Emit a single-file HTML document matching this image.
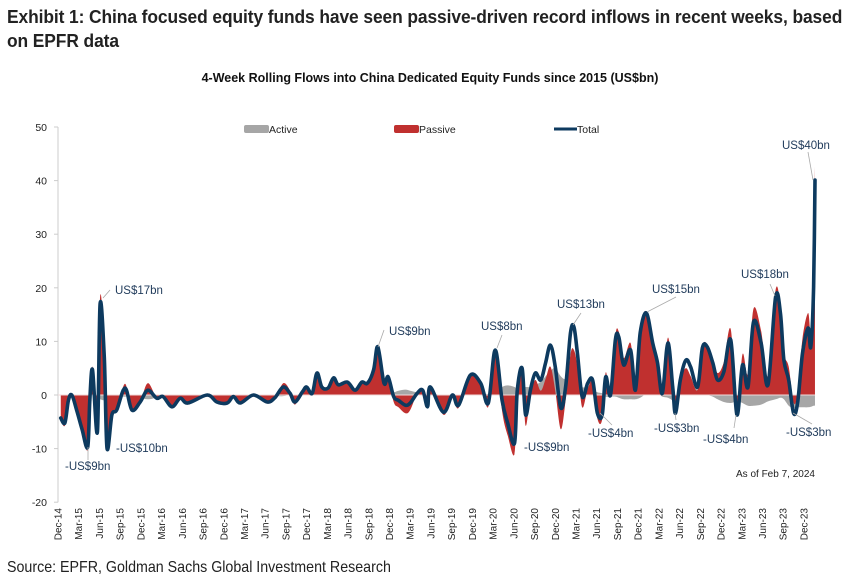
<!DOCTYPE html>
<html><head><meta charset="utf-8"><style>
body{margin:0;width:859px;height:586px;background:#fff;overflow:hidden;font-family:"Liberation Sans",sans-serif;}
.title{position:absolute;left:7px;top:5px;width:980px;font-weight:bold;font-size:18.5px;line-height:24px;color:#222;transform:scaleX(0.94);transform-origin:0 0;letter-spacing:-0.1px}
.src{position:absolute;left:7px;top:559px;font-size:16px;color:#222;transform:scaleX(0.89);transform-origin:0 0;white-space:nowrap}
svg{position:absolute;left:0;top:0}
</style></head><body>
<div class="title">Exhibit 1: China focused equity funds have seen passive-driven record inflows in recent weeks, based<br>on EPFR data</div>
<div class="src">Source: EPFR, Goldman Sachs Global Investment Research</div>
<svg id="c" width="859" height="586"></svg>
<script>
const months = [0.4,1,1.5,2,2.7,3.5,4.3,4.6,5,5.7,6.1,6.7,7.1,7.8,8.5,9.7,10.7,11.9,13,14.3,15.2,16.5,17.7,18.8,21.6,23,24.5,25.4,26.4,28.3,30.3,31.4,32.6,33.6,34.3,35.4,36,36.8,37.5,38.2,39.1,39.9,40.6,41.9,43,44,44.8,45.7,46.3,47.2,47.8,48.6,49.3,50.3,51,52,52.8,53.5,53.9,55.8,57.1,58,59.7,61.2,62.3,63.3,64.3,65.1,66.1,66.5,67.2,67.7,68.4,69.1,69.9,70.6,71.3,72,72.8,73.5,74.2,74.7,75.2,75.9,76.7,77.4,78.1,78.8,79.3,80,80.7,81.2,81.9,82.9,83.6,84.3,85.2,86.1,86.8,87.5,88.3,89,89.4,90.1,90.9,91.6,92.6,93.3,94,94.8,95.5,96.4,97.4,98.3,99.1,99.9,100.7,101.8,102.8,103.9,104.6,105.1,105.8,106.5,107.1,107.8,108.6,109,109.4,109.6];
const total = [-4.3,-5.2,-1,0,-2.8,-6.5,-9.7,-1,4.7,-6.9,17,7,-9.9,-3.7,-2.8,1.3,-2.8,-1.3,0.9,-0.6,-0.3,-2.2,-0.6,-1.5,0,-1.3,-1.5,-0.3,-1.5,0,-1.3,-0.5,1.5,0.3,-1.3,0.6,1.5,0.3,4.1,1.5,1.3,3.2,1.9,2.4,0.9,2.4,2.2,4.7,9,2.2,3.4,-0.3,-1,-1.9,-1.5,0.3,0.9,-2.2,1.5,-3.2,0,-1.9,3.7,2.2,-1.5,8.4,-1,-5.2,-9,0.9,5,-3.7,0.9,4.1,2.8,6,9.3,5.2,-2.4,1.5,11.6,12.7,7.8,-0.3,2.2,2.8,-3.4,-3.7,3.4,0,10.3,10.8,5.6,8.4,0.9,11.6,15.3,9.7,6,0.3,9.7,1.5,-3.4,2.8,6.5,5.2,1.5,8.8,9,6,2.8,4.3,10.3,-3.7,5.6,1.5,13.6,9.7,1.9,18.3,15.3,6.5,2.8,-3.4,-1.3,7.8,12.5,9,20.1,40.1];
const active = [0,0,0,0,0,0,0,0,0,-0.5,-0.8,-1,-0.8,-0.5,-0.3,-0.3,-0.3,-0.5,-0.8,-0.5,-0.3,-0.3,-0.3,-0.2,-0.2,-0.2,-0.3,-0.2,-0.2,-0.2,-0.2,-0.2,-0.2,0,0,0.3,0.5,0.5,0.8,0.8,0.8,0.8,0.8,0.8,0.8,0.8,0.8,0.8,0.8,0.5,0.5,0.5,0.8,1,0.8,0.5,0.3,-0.3,0.2,0,0,0,0.3,0.3,0.2,0.5,1.5,1.8,1.5,1.2,1.5,1.5,1.5,1.8,2.5,3.5,4.5,5,3.5,3,4.5,4.8,3,1.5,1.5,1,0.5,0.3,-0.3,-0.3,-0.3,-0.5,-0.8,-0.8,-0.8,-0.5,0.2,0.5,0.3,-0.3,-0.5,-1,-1.2,0.5,2,2.2,1,0.3,0,-0.3,-0.8,-1.3,-1.5,-1.2,-1.5,-2,-2,-1.8,-1.2,-0.8,-0.5,-0.8,-2,-2.5,-2.3,-2.3,-2.3,-2.2,-2,-2];
const yTicks = [50,40,30,20,10,0,-10,-20];
const xLabels = [];
['14','15','16','17','18','19','20','21','22','23'].forEach((yr,i)=>{ if(i===0){xLabels.push('Dec-14');return;} ['Mar','Jun','Sep','Dec'].forEach(m=>xLabels.push(m+'-'+yr)); });
const x0=58, mPx=20.72/3;
const X=m=>x0+m*mPx;
const Y=v=>395-v*5.36;
const svg=document.getElementById('c');
const NS='http://www.w3.org/2000/svg';
function mk(tag,attrs,parent){const e=document.createElementNS(NS,tag);for(const k in attrs)e.setAttribute(k,attrs[k]);(parent||svg).appendChild(e);return e;}
function smooth(p){
  let d='';
  for(let i=0;i<p.length-1;i++){
    const a=p[Math.max(0,i-1)],b=p[i],c=p[i+1],e=p[Math.min(p.length-1,i+2)];
    const c1=[b[0]+(c[0]-a[0])/6,b[1]+(c[1]-a[1])/6],c2=[c[0]-(e[0]-b[0])/6,c[1]-(e[1]-b[1])/6];
    d+=`C${c1[0].toFixed(1)},${c1[1].toFixed(1)} ${c2[0].toFixed(1)},${c2[1].toFixed(1)} ${c[0].toFixed(1)},${c[1].toFixed(1)}`;
  }
  return d;
}
let t=mk('text',{x:430,y:82,'text-anchor':'middle','font-size':'12.5','font-weight':'bold',fill:'#111'});t.textContent='4-Week Rolling Flows into China Dedicated Equity Funds since 2015 (US$bn)';


let ax=mk('line',{x1:x0,y1:Y(50),x2:x0,y2:Y(-20),stroke:'#ccc','stroke-width':1});


yTicks.forEach(v=>{
  const l=mk('line',{x1:x0-4,x2:x0,y1:Y(v),y2:Y(v),stroke:'#ccc'});
  
  
  const tx=mk('text',{x:47,y:Y(v)+4,'text-anchor':'end','font-size':'10.5',fill:'#222'});tx.textContent=v;
  
  
});
xLabels.forEach((s,i)=>{
  const x=x0+i*20.72+3.5;
  const tx=mk('text',{x:0,y:0,transform:`translate(${x},508) rotate(-90)`,'text-anchor':'end','font-size':'10',fill:'#222'});tx.textContent=s;
  
  
});
function area(vals,color,name){
  const p=vals.map((v,i)=>[X(months[i]),Y(v)]);
  let d=`M${X(months[0])},${Y(0)}L${p[0][0]},${p[0][1]}`+smooth(p)+`L${X(months[months.length-1])},${Y(0)}Z`;
  const el=mk('path',{d,fill:color});
  
  
}
area(active,'#a6a6a6','active-area');
const passive=total.map((v,i)=>v-active[i]+(v>0?0.5:-0.5));
area(passive,'#c0302f','passive-area');
let z=mk('line',{x1:x0,x2:X(109.6),y1:Y(0),y2:Y(0),stroke:'#f0dada','stroke-width':1});


const tp=total.map((v,i)=>[X(months[i]),Y(v)]);
let tl=mk('path',{d:`M${tp[0][0]},${tp[0][1]}`+smooth(tp),fill:'none',stroke:'#0d3a5f','stroke-width':3.6,'stroke-linejoin':'round','stroke-linecap':'round'});


let r1=mk('rect',{x:244,y:125,width:25,height:8,fill:'#a6a6a6',rx:2});


let t1=mk('text',{x:269,y:133,'font-size':'10.5',fill:'#222'});t1.textContent='Active';


let r2=mk('rect',{x:394,y:125,width:25,height:8,fill:'#c0302f',rx:2});


let t2=mk('text',{x:419,y:133,'font-size':'10.5',fill:'#222'});t2.textContent='Passive';


let r3=mk('line',{x1:554,x2:577,y1:129,y2:129,stroke:'#0d3a5f','stroke-width':3});


let t3=mk('text',{x:577,y:133,'font-size':'10.5',fill:'#222'});t3.textContent='Total';


const ann=[['US$17bn',115,294,103,298,110,290],['-US$9bn',65,470,88,447,88,460],['-US$10bn',116,452,0,0,0,0],['US$9bn',389,335,378,347,384,330],['US$8bn',481,330,497,348,502,335],['-US$9bn',524,451,0,0,0,0],['US$13bn',557,308,573,325,581,313],['-US$4bn',588,437,600,413,612,425],['US$15bn',652,293,647,312,676,297],['-US$3bn',654,432,675,413,676,420],['-US$4bn',703,443,736,415,734,428],['US$18bn',741,278,775,296,770,284],['-US$3bn',786,436,793,413,812,424],['US$40bn',782,149,813,180,808,152]];
ann.forEach(a=>{
  if(a[3]){const l=mk('line',{x1:a[3],y1:a[4],x2:a[5],y2:a[6],stroke:'#aaa','stroke-width':0.8});
  
  }
  const tx=mk('text',{x:a[1],y:a[2],'font-size':'11.5',fill:'#1f3a5a'});tx.textContent=a[0];
  
  
});
let asof=mk('text',{x:736,y:477,'font-size':'10',fill:'#222'});asof.textContent='As of Feb 7, 2024';


</script>
</body></html>
